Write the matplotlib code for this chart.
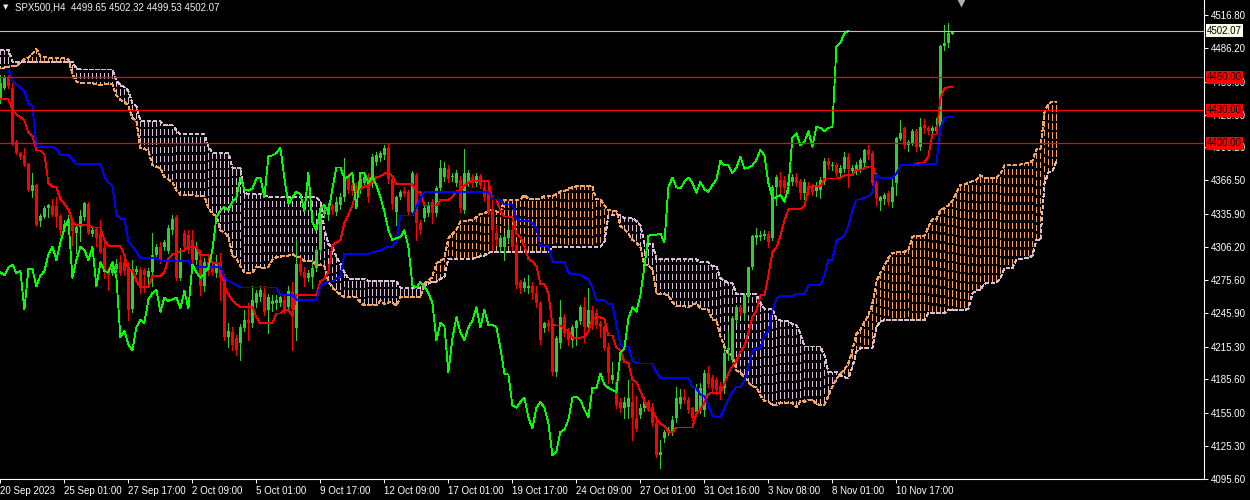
import numpy as np
import pandas as pd
import matplotlib
matplotlib.use('Agg')
import matplotlib.pyplot as plt
from matplotlib.collections import LineCollection
from matplotlib.transforms import blended_transform_factory

plt.rcParams['font.family'] = ['Liberation Sans', 'DejaVu Sans']
plt.rcParams['lines.scale_dashes'] = False

# bars before the visible window (only feed the ichimoku windows)
pre_high = [4528, 4533, 4538, 4516, 4512, 4508, 4505, 4498, 4495, 4490,
            4486, 4482, 4478, 4476, 4480, 4490, 4496, 4494, 4488, 4484,
            4480, 4476, 4470, 4468, 4472, 4480, 4490, 4500, 4506, 4510,
            4512, 4514, 4516, 4510, 4500, 4490, 4480, 4470, 4462, 4458,
            4455, 4460, 4466, 4470, 4462, 4455, 4450, 4448, 4458, 4468,
            4478, 4488, 4494, 4498, 4502, 4500, 4504, 4508, 4510, 4512,
            4516, 4470, 4466, 4462, 4465, 4468, 4466, 4462, 4458, 4452,
            4445, 4440, 4438, 4448, 4455, 4458, 4456]
pre_low = [4515, 4520, 4522, 4505, 4500, 4495, 4490, 4484, 4480, 4476,
           4470, 4466, 4462, 4460, 4464, 4472, 4480, 4478, 4470, 4468,
           4464, 4458, 4452, 4450, 4455, 4462, 4470, 4482, 4490, 4495,
           4498, 4500, 4502, 4494, 4482, 4470, 4460, 4450, 4444, 4440,
           4438, 4442, 4448, 4452, 4444, 4438, 4435, 4432, 4440, 4450,
           4460, 4470, 4478, 4484, 4488, 4486, 4490, 4492, 4496, 4498,
           4500, 4452, 4450, 4446, 4448, 4450, 4450, 4445, 4440, 4434,
           4420, 4418, 4420, 4430, 4438, 4442, 4440]

# visible H4 candles
opn = [4439, 4450, 4459, 4450, 4402, 4391, 4389, 4381, 4357, 4362,
       4329, 4333, 4341, 4343, 4343, 4334, 4323, 4325, 4330, 4319,
       4324, 4333, 4345, 4318, 4322, 4318, 4305, 4285, 4282, 4286,
       4292, 4292, 4288, 4250, 4283, 4285, 4285, 4279, 4283, 4299,
       4306, 4306, 4302, 4321, 4333, 4278, 4319, 4317, 4312, 4294,
       4294, 4270, 4292, 4289, 4282, 4292, 4279, 4224, 4229, 4223,
       4219, 4232, 4240, 4237, 4255, 4260, 4264, 4249, 4254, 4255,
       4255, 4258, 4251, 4265, 4232, 4290, 4283, 4278, 4279, 4287,
       4303, 4336, 4335, 4343, 4338, 4344, 4351, 4369, 4362, 4361,
       4359, 4364, 4369, 4364, 4383, 4387, 4389, 4396, 4368, 4338,
       4351, 4357, 4356, 4338, 4371, 4328, 4332, 4337, 4347, 4337,
       4359, 4369, 4377, 4369, 4364, 4367, 4339, 4364, 4369, 4364,
       4370, 4360, 4358, 4340, 4319, 4306, 4306, 4314, 4321, 4308,
       4274, 4269, 4269, 4270, 4264, 4255, 4232, 4237, 4235, 4192,
       4219, 4242, 4229, 4221, 4232, 4239, 4251, 4233, 4249, 4246,
       4237, 4233, 4215, 4185, 4183, 4165, 4160, 4161, 4165, 4151,
       4153, 4160, 4165, 4161, 4146, 4117, 4132, 4138, 4137, 4151,
       4163, 4170, 4167, 4160, 4156, 4158, 4158, 4191, 4187, 4185,
       4180, 4178, 4212, 4203, 4240, 4251, 4246, 4260, 4288, 4314,
       4315, 4316, 4318, 4314, 4360, 4367, 4367, 4361, 4365, 4369,
       4366, 4355, 4361, 4360, 4357, 4358, 4366, 4384, 4379, 4380,
       4373, 4377, 4388, 4375, 4375, 4377, 4382, 4394, 4391, 4364,
       4348, 4349, 4355, 4347, 4364, 4404, 4414, 4398, 4400, 4411,
       4397, 4417, 4414, 4411, 4411, 4415, 4488, 4491, 4499.65]
high = [4462, 4462, 4462, 4455, 4403, 4392, 4396, 4382, 4373, 4363,
        4336, 4343, 4345, 4349, 4351, 4336, 4330, 4335, 4332, 4327,
        4339, 4347, 4347, 4323, 4323, 4330, 4310, 4287, 4292, 4295,
        4299, 4296, 4292, 4294, 4289, 4288, 4287, 4287, 4319, 4309,
        4310, 4312, 4326, 4335, 4335, 4305, 4321, 4321, 4321, 4310,
        4303, 4296, 4296, 4292, 4299, 4300, 4281, 4237, 4233, 4226,
        4236, 4249, 4255, 4270, 4267, 4270, 4270, 4263, 4262, 4262,
        4264, 4262, 4270, 4274, 4313, 4296, 4288, 4285, 4292, 4306,
        4338, 4342, 4346, 4345, 4351, 4355, 4387, 4372, 4366, 4364,
        4370, 4372, 4373, 4390, 4392, 4393, 4398, 4400, 4370, 4352,
        4358, 4360, 4358, 4375, 4373, 4330, 4344, 4347, 4349, 4361,
        4385, 4383, 4380, 4373, 4376, 4370, 4395, 4376, 4372, 4373,
        4372, 4367, 4365, 4349, 4326, 4317, 4318, 4326, 4326, 4310,
        4276, 4278, 4280, 4274, 4270, 4257, 4238, 4240, 4237, 4225,
        4258, 4245, 4232, 4235, 4240, 4253, 4260, 4269, 4252, 4250,
        4239, 4235, 4219, 4201, 4186, 4169, 4170, 4185, 4182, 4171,
        4163, 4170, 4167, 4164, 4149, 4131, 4140, 4142, 4152, 4179,
        4177, 4177, 4170, 4161, 4181, 4182, 4194, 4198, 4190, 4188,
        4183, 4214, 4230, 4243, 4253, 4253, 4264, 4288, 4317, 4323,
        4320, 4321, 4320, 4362, 4371, 4374, 4370, 4367, 4372, 4373,
        4368, 4368, 4365, 4363, 4365, 4369, 4387, 4387, 4383, 4382,
        4380, 4392, 4391, 4380, 4383, 4387, 4395, 4398, 4393, 4366,
        4352, 4355, 4357, 4368, 4406, 4421, 4415, 4403, 4413, 4413,
        4423, 4422, 4416, 4416, 4423, 4489, 4507, 4509, 4502.32]
low = [4437, 4449, 4450, 4398, 4390, 4386, 4379, 4357, 4351, 4325,
       4325, 4332, 4333, 4334, 4324, 4317, 4320, 4323, 4308, 4300,
       4311, 4330, 4318, 4316, 4307, 4300, 4278, 4267, 4280, 4283,
       4280, 4280, 4240, 4247, 4281, 4264, 4265, 4270, 4270, 4296,
       4291, 4303, 4300, 4318, 4276, 4276, 4304, 4300, 4291, 4290,
       4262, 4266, 4280, 4280, 4279, 4258, 4221, 4215, 4212, 4208,
       4203, 4230, 4221, 4233, 4251, 4257, 4244, 4228, 4248, 4250,
       4252, 4246, 4248, 4212, 4221, 4280, 4270, 4275, 4269, 4284,
       4300, 4333, 4330, 4336, 4335, 4340, 4348, 4355, 4353, 4356,
       4355, 4361, 4347, 4360, 4380, 4384, 4386, 4364, 4340, 4326,
       4349, 4352, 4335, 4335, 4312, 4318, 4329, 4334, 4328, 4334,
       4356, 4366, 4365, 4366, 4361, 4338, 4337, 4361, 4360, 4361,
       4359, 4348, 4336, 4303, 4308, 4302, 4294, 4311, 4303, 4269,
       4264, 4266, 4264, 4259, 4251, 4218, 4229, 4230, 4190, 4189,
       4214, 4225, 4217, 4215, 4217, 4236, 4220, 4230, 4231, 4232,
       4224, 4212, 4182, 4182, 4160, 4156, 4151, 4151, 4131, 4139,
       4151, 4157, 4157, 4143, 4115, 4105, 4129, 4135, 4135, 4147,
       4160, 4164, 4155, 4149, 4153, 4155, 4152, 4179, 4175, 4172,
       4168, 4173, 4203, 4201, 4237, 4244, 4240, 4258, 4286, 4309,
       4312, 4313, 4306, 4312, 4344, 4355, 4356, 4355, 4362, 4361,
       4349, 4349, 4354, 4353, 4352, 4350, 4363, 4377, 4376, 4370,
       4370, 4374, 4360, 4372, 4372, 4374, 4379, 4386, 4362, 4344,
       4339, 4345, 4344, 4342, 4353, 4403, 4396, 4393, 4398, 4393,
       4394, 4409, 4408, 4408, 4408, 4412, 4485, 4487, 4499.53]
close = [4455, 4459, 4452, 4400, 4391, 4388, 4380, 4358, 4362, 4326,
         4334, 4341, 4344, 4335, 4333, 4321, 4327, 4331, 4320, 4324,
         4334, 4346, 4319, 4321, 4314, 4301, 4283, 4280, 4287, 4290,
         4282, 4284, 4249, 4286, 4286, 4270, 4280, 4284, 4299, 4306,
         4294, 4310, 4323, 4331, 4278, 4294, 4306, 4303, 4294, 4306,
         4270, 4292, 4284, 4283, 4292, 4278, 4224, 4230, 4217, 4212,
         4233, 4240, 4237, 4258, 4264, 4267, 4247, 4260, 4257, 4258,
         4260, 4250, 4266, 4250, 4290, 4283, 4278, 4282, 4287, 4303,
         4333, 4339, 4342, 4339, 4347, 4351, 4369, 4358, 4357, 4359,
         4368, 4369, 4351, 4388, 4389, 4391, 4396, 4368, 4345, 4351,
         4356, 4354, 4338, 4373, 4328, 4321, 4341, 4344, 4337, 4359,
         4378, 4378, 4368, 4370, 4373, 4341, 4373, 4373, 4364, 4370,
         4362, 4351, 4338, 4321, 4312, 4314, 4315, 4321, 4306, 4271,
         4269, 4274, 4270, 4264, 4255, 4221, 4237, 4234, 4192, 4223,
         4242, 4228, 4221, 4233, 4239, 4251, 4233, 4249, 4235, 4235,
         4233, 4214, 4191, 4190, 4162, 4160, 4165, 4169, 4151, 4141,
         4160, 4165, 4160, 4146, 4117, 4120, 4138, 4140, 4149, 4169,
         4170, 4167, 4158, 4151, 4178, 4178, 4191, 4181, 4178, 4176,
         4174, 4210, 4214, 4241, 4251, 4247, 4262, 4288, 4316, 4317,
         4317, 4318, 4310, 4360, 4369, 4360, 4359, 4365, 4369, 4364,
         4355, 4365, 4358, 4356, 4362, 4367, 4384, 4380, 4380, 4373,
         4378, 4388, 4377, 4378, 4380, 4385, 4394, 4389, 4364, 4350,
         4351, 4353, 4347, 4360, 4405, 4409, 4398, 4401, 4411, 4397,
         4415, 4414, 4411, 4414, 4415, 4488, 4491, 4500, 4502.07]

levels = [4460.00, 4430.00, 4400.00]
price_ticks = [4516.80, 4486.20, 4456.00, 4425.90, 4396.20, 4366.50, 4335.90, 4306.20,
               4275.60, 4245.90, 4215.30, 4185.60, 4155.00, 4125.30, 4095.60]
time_labels = ['20 Sep 2023', '25 Sep 01:00', '27 Sep 17:00', '2 Oct 09:00', '5 Oct 01:00',
               '9 Oct 17:00', '12 Oct 09:00', '17 Oct 01:00', '19 Oct 17:00', '24 Oct 09:00',
               '27 Oct 01:00', '31 Oct 16:00', '3 Nov 08:00', '8 Nov 01:00', '10 Nov 17:00']

# ichimoku 9/26/52
n_pre = len(pre_high)
hi_all = pd.Series(pre_high + high, dtype=float)
lo_all = pd.Series(pre_low + low, dtype=float)
tenkan = ((hi_all.rolling(9).max() + lo_all.rolling(9).min()) / 2).to_numpy()
kijun = ((hi_all.rolling(26).max() + lo_all.rolling(26).min()) / 2).to_numpy()
senkou_a = (tenkan + kijun) / 2
senkou_b = ((hi_all.rolling(52).max() + lo_all.rolling(52).min()) / 2).to_numpy()

o = np.array(opn, dtype=float)
h = np.array(high, dtype=float)
l = np.array(low, dtype=float)
c = np.array(close, dtype=float)
bars = np.arange(len(c))
cloud_x = np.arange(len(c) + 26)
span_a = senkou_a[cloud_x + n_pre - 26]
span_b = senkou_b[cloud_x + n_pre - 26]

y_top, y_bot = 4530.1, 4095.2
fig = plt.figure(figsize=(12.5, 5), dpi=100, facecolor='black')
ax = fig.add_axes([0, 21 / 500, 1204 / 1250, 479 / 500], facecolor='black')
ax.set_xlim(-0.1, 300.9)
ax.set_ylim(y_bot, y_top)
px_per_pt = 479 / (y_top - y_bot)
LW = 0.6  # about one pixel

# kumo hatching (dashes 5px on / 3px off, aligned on a common grid)
segs, styles, cols = [], [], []
for x, a, b in zip(cloud_x, span_a, span_b):
    top, bot = max(a, b), min(a, b)
    phase = ((y_top - top) * px_per_pt) % 8
    segs.append([(x, top), (x, bot)])
    styles.append((phase * 0.72, (3.6, 2.16)))
    cols.append('#F4A460' if a > b else '#D8BFD8')
ax.add_collection(LineCollection(segs, colors=cols, linestyles=styles, linewidths=LW,
                                 antialiaseds=False, zorder=1))
ax.plot(cloud_x, span_a, color='#F4A460', lw=LW, ls=(0, (2.2, 1.5)), antialiased=False, zorder=1)
ax.plot(cloud_x, span_b, color='#D8BFD8', lw=LW, ls=(0, (2.2, 1.5)), antialiased=False, zorder=1)

# candles
ccol = np.where(c >= o, '#32CD32', '#FF0000')
ax.vlines(bars, l, h, colors=ccol, lw=LW, antialiased=False, zorder=3)
ax.bar(bars, np.maximum(np.abs(c - o), 0.9), bottom=np.minimum(o, c), width=0.75,
       color=ccol, lw=0, antialiased=False, zorder=3)

# tenkan, kijun, chikou
ax.plot(bars, tenkan[n_pre:], color='#FF0000', lw=LW, antialiased=False, zorder=4)
ax.plot(bars, kijun[n_pre:], color='#0000FF', lw=LW, antialiased=False, zorder=4)
ax.plot(bars[26:] - 26, c[26:], color='#00FF00', lw=LW, antialiased=False, zorder=4)

for lv in levels:
    ax.axhline(lv, color='#FF0000', lw=0.9, zorder=5)
ax.axhline(c[-1], color='#C0C0C0', lw=0.8, zorder=5)

# axes
for side in ['top', 'left']:
    ax.spines[side].set_visible(False)
for side in ['right', 'bottom']:
    ax.spines[side].set_color('white')
    ax.spines[side].set_linewidth(0.8)
ax.yaxis.tick_right()
ax.set_yticks(price_ticks, labels=[f'{v:.2f}' for v in price_ticks])
ax.set_xticks(np.arange(len(time_labels)) * 16, labels=time_labels)
for t in ax.get_xticklabels():
    t.set_ha('left')
ax.tick_params(axis='both', colors='white', length=3, width=0.7, labelsize=7, pad=2)

trans = blended_transform_factory(ax.transAxes, ax.transData)
for lv in levels:
    ax.text(1 + 3 / 1204, lv, f'{lv:.2f}', transform=trans, fontsize=7, color='black',
            va='center', ha='left', clip_on=False, zorder=6,
            bbox=dict(boxstyle='square,pad=0.15', fc='#FF0000', ec='none'))
ax.text(1 + 3 / 1204, c[-1], f'{c[-1]:.2f}', transform=trans, fontsize=7, color='black',
        va='center', ha='left', clip_on=False, zorder=6,
        bbox=dict(boxstyle='square,pad=0.15', fc='#FFFFE8', ec='none'))

fig.text(3 / 1250, 1 - 7 / 500, '\u25BC', fontsize=5, color='#F0F0F0', va='center',
         family='DejaVu Sans')
fig.text(15 / 1250, 1 - 7 / 500,
         f'SPX500,H4  {o[-1]:.2f} {h[-1]:.2f} {l[-1]:.2f} {c[-1]:.2f}',
         fontsize=7, color='#F0F0F0', va='center')
# chart shift marker
ax.plot([961 / 1250], [1 - 3 / 500], marker='v', ms=6, color='#B0B0B0', mec='none',
        transform=fig.transFigure, clip_on=False)

fig.savefig('out.png', dpi=100, facecolor='black')
